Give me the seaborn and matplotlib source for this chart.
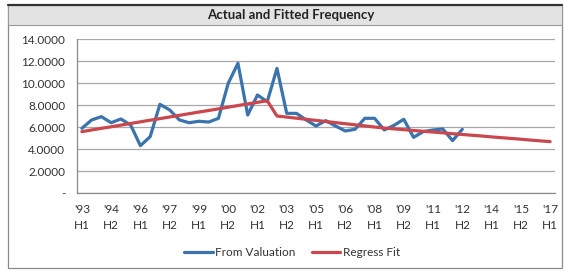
import matplotlib.pyplot as plt
import numpy as np
import pandas as pd
import seaborn as sns
from matplotlib.patches import Rectangle
from matplotlib.lines import Line2D

# Half-year periods from '93 H1 to '17 H1 (49 categories)
periods = list(range(49))

from_valuation = [5.88, 6.64, 6.94, 6.39, 6.73, 6.18, 4.30, 5.12, 8.06, 7.55,
                  6.64, 6.39, 6.52, 6.45, 6.79, 9.97, 11.79, 7.09, 8.91, 8.30,
                  11.33, 7.24, 7.24, 6.64, 6.09, 6.58, 6.09, 5.64, 5.79, 6.79,
                  6.79, 5.73, 6.15, 6.70, 5.06, 5.58, 5.73, 5.82, 4.76, 5.79]

regress_fit = [5.58, 5.73, 5.88, 6.02, 6.17, 6.32, 6.47, 6.62, 6.76, 6.91,
               7.06, 7.21, 7.36, 7.50, 7.65, 7.80, 7.95, 8.10, 8.24, 8.39,
               7.00, 6.90, 6.80, 6.70, 6.60, 6.50, 6.40, 6.30, 6.20, 6.10,
               6.00, 5.90, 5.83, 5.76, 5.68, 5.61, 5.54, 5.47, 5.39, 5.32,
               5.25, 5.18, 5.10, 5.03, 4.96, 4.89, 4.81, 4.74, 4.67]

tick_labels = ["'93\nH1", "'94\nH2", "'96\nH1", "'97\nH2", "'99\nH1", "'00\nH2",
               "'02\nH1", "'03\nH2", "'05\nH1", "'06\nH2", "'08\nH1", "'09\nH2",
               "'11\nH1", "'12\nH2", "'14\nH1", "'15\nH2", "'17\nH1"]

y_ticks = [0, 2, 4, 6, 8, 10, 12, 14]


def main():
    sns.set_theme(style="white")
    plt.rcParams['font.family'] = ['Lato', 'DejaVu Sans']

    blue = "#3a73ad"
    red = "#c9474d"
    text_col = "#333333"

    df = pd.DataFrame({
        'period': periods[:len(from_valuation)] + periods,
        'value': from_valuation + regress_fit,
        'series': ['From Valuation'] * len(from_valuation) + ['Regress Fit'] * len(regress_fit),
    })

    fig = plt.figure(figsize=(5.65, 2.73), dpi=100)
    fig.patch.set_facecolor('white')

    # chart frame and title band
    fig.patches.append(Rectangle((8 / 565, 1 - 268 / 273), 554 / 565, 263 / 273,
                                 transform=fig.transFigure, facecolor='none',
                                 edgecolor='#8a8a8a', lw=0.9, zorder=0))
    fig.patches.append(Rectangle((8 / 565, 1 - 25 / 273), 554 / 565, 20 / 273,
                                 transform=fig.transFigure, facecolor='#e3e3e3',
                                 edgecolor='#9a9a9a', lw=0.8, zorder=0))
    fig.lines.append(Line2D([8 / 565, 562 / 565], [1 - 5 / 273, 1 - 5 / 273],
                            transform=fig.transFigure, color='#333333', lw=1.6))
    fig.text(291 / 565, 1 - 15 / 273, 'Actual and Fitted Frequency', ha='center',
             va='center', fontsize=9.5, fontweight='bold', color='#222222')

    ax = fig.add_axes([77 / 565, 1 - 193 / 273, 478 / 565, 154 / 273])
    sns.lineplot(data=df, x='period', y='value', hue='series',
                 palette=[blue, red], linewidth=2.3, ax=ax, legend=False)

    ax.set_xlim(-0.5, 48.5)
    ax.set_ylim(0, 14)
    ax.set_xlabel('')
    ax.set_ylabel('')

    ax.set_yticks(y_ticks)
    ax.set_yticklabels(['-' if v == 0 else f'{v:.4f}' for v in y_ticks])
    ax.set_xticks(periods[::3])
    ax.set_xticklabels(tick_labels, linespacing=1.5)
    ax.set_xticks([p - 0.5 for p in periods] + [48.5], minor=True)

    ax.yaxis.grid(True, color='#a8a8a8', lw=0.9)
    ax.set_axisbelow(True)
    for side in ['top', 'right']:
        ax.spines[side].set_visible(False)
    for side in ['left', 'bottom']:
        ax.spines[side].set_color('#8a8a8a')
        ax.spines[side].set_linewidth(0.9)

    ax.tick_params(axis='y', length=3.5, width=0.8, color='#a8a8a8', pad=5,
                   labelsize=8.5, labelcolor=text_col)
    ax.tick_params(axis='x', which='major', length=0, pad=8,
                   labelsize=8.5, labelcolor=text_col)
    ax.tick_params(axis='x', which='minor', length=2.5, width=0.8,
                   color='#8a8a8a', direction='out')

    handles = [Line2D([], [], color=blue, lw=2.3), Line2D([], [], color=red, lw=2.3)]
    fig.legend(handles, ['From Valuation', 'Regress Fit'], loc='center',
               bbox_to_anchor=(292 / 565, 1 - 253 / 273), ncol=2, frameon=False,
               fontsize=8.5, handlelength=2.4, handletextpad=0.2,
               columnspacing=1.4, labelcolor=text_col)

    fig.savefig('out.png', dpi=100)


if __name__ == "__main__":
    main()
